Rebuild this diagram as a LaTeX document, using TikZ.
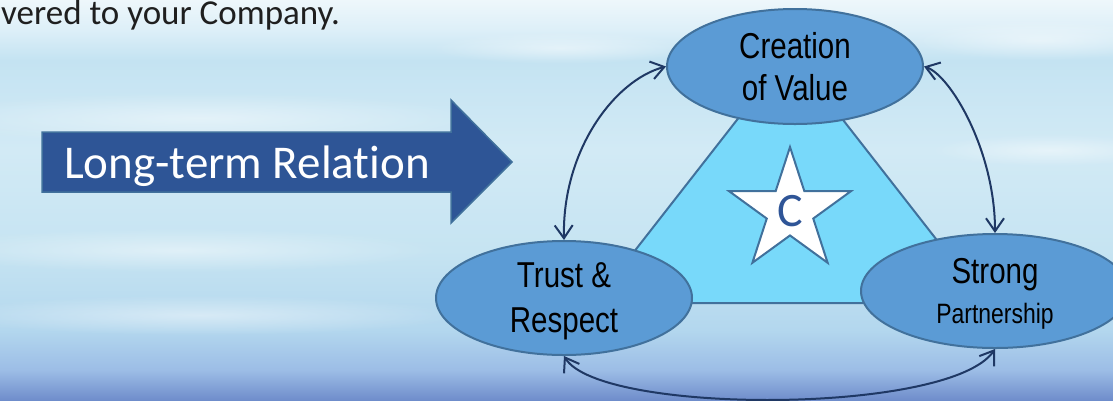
\documentclass[tikz,border=0pt]{standalone}
\usepackage{fontspec}
\setmainfont{Carlito}[Ligatures=CommonOff]
\newfontfamily\narrowfont[FakeStretch=0.82]{Liberation Sans}
\usetikzlibrary{shapes.geometric,arrows.meta,fadings}
\definecolor{bgA}{HTML}{6F8DCB}
\definecolor{bgB}{HTML}{9CBDE6}
\definecolor{bgC}{HTML}{B3D7EE}
\definecolor{bgD}{HTML}{C6E4F2}
\definecolor{bgE}{HTML}{D2EAF5}
\definecolor{bgF}{HTML}{C4E3F2}
\definecolor{bgG}{HTML}{DDEFF8}
\definecolor{bgH}{HTML}{EEF7FB}
\definecolor{ellfill}{HTML}{5B9BD5}
\definecolor{ellline}{HTML}{41719C}
\definecolor{trifill}{HTML}{78D9FA}
\definecolor{arrfill}{HTML}{2E5596}
\definecolor{connc}{HTML}{1F3864}
\definecolor{cblue}{HTML}{2F5597}
\pgfdeclareverticalshading{bgshade}{100bp}{color(0bp)=(bgA); color(25bp)=(bgA); color(28.75bp)=(bgB); color(33.75bp)=(bgC); color(43.75bp)=(bgD); color(56.25bp)=(bgE); color(67.5bp)=(bgF); color(71.25bp)=(bgG); color(75bp)=(bgH); color(100bp)=(bgH)}
\tikzfading[name=softglow, inner color=transparent!0, outer color=transparent!100]
\tikzset{
  ell/.style={ellipse, draw=ellline, fill=ellfill, line width=2pt, inner sep=0pt, align=center, text=black},
  conn/.style={draw=connc, line width=2pt, {Straight Barb[length=13pt,width=18pt]}-{Straight Barb[length=13pt,width=18pt]}},
  streak/.style={fill=white, opacity=0.45, path fading=softglow},
  shapeline/.style={draw=ellline, line width=2pt}
}
\begin{document}
\begin{tikzpicture}[x=1pt,y=-1pt]
\useasboundingbox (0,0) rectangle (1113,400);
% background
\fill[shading=bgshade] (0,0) rectangle (1113,400);
\fill[streak] (200,118) ellipse [x radius=280pt, y radius=26pt];
\fill[streak] (560,48) ellipse [x radius=130pt, y radius=16pt];
\fill[streak] (1040,40) ellipse [x radius=130pt, y radius=20pt];
\fill[streak] (180,250) ellipse [x radius=260pt, y radius=22pt];
\fill[streak] (200,315) ellipse [x radius=260pt, y radius=20pt];
\fill[streak] (1050,150) ellipse [x radius=120pt, y radius=16pt];
% top text
\node[anchor=base west, inner sep=0pt, font=\fontsize{35}{40}\selectfont, text=black!88] (top) at (1,24) {vered to your Company.};
% block arrow
\fill[arrfill, draw=ellline, line width=1.5pt] (42,132) -- (451,132) -- (451,100) -- (512,162) -- (451,223) -- (451,192) -- (42,192) -- cycle;
\node[anchor=base, inner sep=0pt, text=white, font=\fontsize{47}{50}\selectfont] (ltr) at (247,178) {Long-term Relation};
% triangle
\filldraw[fill=trifill, shapeline] (790,52) -- (594,303) -- (986,303) -- cycle;
% star
\node[star, star points=5, star point ratio=2.618, minimum size=128pt, inner sep=0pt, fill=white, shapeline, text=cblue, font=\fontsize{48}{50}\selectfont] (star) at (790,211) {C};
% ellipses
\node[ell, minimum width=256pt, minimum height=115pt, font=\narrowfont\fontsize{36}{42}\selectfont] (cv) at (795,66.5) {Creation\\of Value};
\node[ell, minimum width=256pt, minimum height=114pt, font=\narrowfont\fontsize{36}{45}\selectfont] (tr) at (564,298) {Trust \&\\\smash{Respect}};
\node[ell, minimum width=268pt, minimum height=114pt, font=\narrowfont\fontsize{36}{40}\selectfont] (sp) at (995,291) {Strong\\{\fontsize{28}{40}\selectfont\smash{Partnership}}};
% connectors
\draw[conn] (cv.west) .. controls (615,80) and (562,150) .. (tr.north);
\draw[conn] (cv.east) .. controls (950,75) and (995,150) .. (sp.north);
\draw[conn] (tr.south) .. controls (600,415) and (950,415) .. (sp.south);
\end{tikzpicture}
\end{document}
